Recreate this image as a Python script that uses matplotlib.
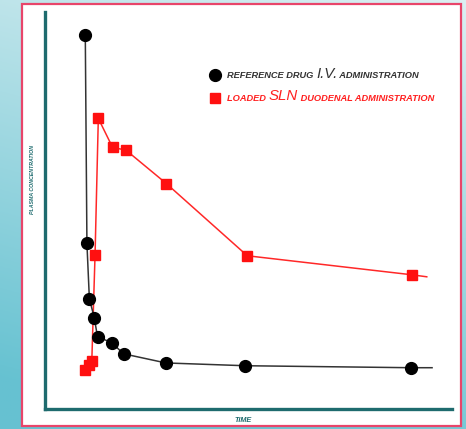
import numpy as np
import matplotlib
matplotlib.use("Agg")
import matplotlib.pyplot as plt
from matplotlib.patches import Rectangle

# ---- data (time in arbitrary units, concentration in arbitrary units) ----
iv_time = [9.9, 10.3, 10.9, 12.1, 12.9, 16.4, 19.3, 29.7, 49.2, 89.9, 95.1]
iv_conc = [94.2, 41.7, 27.8, 23.0, 18.2, 16.7, 13.9, 11.6, 10.9, 10.4, 10.4]

sln_time = [9.8, 10.8, 11.5, 12.3, 13.1, 16.6, 19.9, 29.8, 49.7, 90.2, 93.8]
sln_conc = [9.8, 11.1, 12.1, 38.9, 73.2, 65.9, 65.2, 56.8, 38.6, 33.8, 33.3]

legend_iv = ["REFERENCE DRUG ", "I.V.", " ADMINISTRATION"]
legend_sln = ["LOADED ", "SLN", " DUODENAL ADMINISTRATION"]
x_label = "TIME"
y_label = "PLASMA CONCENTRATION"

W, H = 466, 429
fig = plt.figure(figsize=(W / 100, H / 100), dpi=100)

# background gradient
bg = fig.add_axes([0, 0, 1, 1], zorder=-10)
yy, xx = np.mgrid[0:1:200j, 0:1:200j]
top = np.array([0.86, 0.94, 0.95])
bot = np.array([0.40, 0.76, 0.82])
t = np.clip(yy * 0.85 + (1 - xx) * 0.25, 0, 1)[..., None]
img = top * (1 - t) + bot * t
bg.imshow(img, aspect="auto", extent=[0, 1, 0, 1], origin="upper")
bg.set_axis_off()

# white panel with red border
fig.patches.append(Rectangle((22 / W, 1 - 426 / H), (461 - 22) / W, (426 - 4) / H,
                             transform=fig.transFigure, facecolor="white",
                             edgecolor="#e8456a", linewidth=1.6, zorder=-5))

teal = "#1e6b6e"
ax = fig.add_axes([45 / W, 1 - 409 / H, (452 - 45) / W, (409 - 12) / H])
ax.set_facecolor("none")
ax.set_xlim(0, 100)
ax.set_ylim(0, 100)
for s in ["top", "right"]:
    ax.spines[s].set_visible(False)
for s in ["left", "bottom"]:
    ax.spines[s].set_color(teal)
    ax.spines[s].set_linewidth(2.4)
ax.set_xticks([])
ax.set_yticks([])

ax.plot(iv_time, iv_conc, color="#333333", lw=1.1, marker="o", markersize=8.5,
        markerfacecolor="black", markeredgecolor="black",
        markevery=list(range(len(iv_time) - 1)), zorder=3)
ax.plot(sln_time, sln_conc, color="#ff2828", lw=1.1, marker="s", markersize=7.4,
        markerfacecolor="#ff1010", markeredgecolor="#ff1010",
        markevery=list(range(len(sln_time) - 1)), zorder=2)

# axis labels
fig.text(243 / W, 1 - 420 / H, x_label, color=teal, fontsize=5.2, style="italic",
         weight="bold", ha="center", va="center", family="Liberation Sans")
fig.text(32 / W, 1 - 180 / H, y_label, color=teal, fontsize=3.8, style="italic",
         weight="bold", rotation=90, ha="center", va="center",
         family="Liberation Sans")


# legend (manual, mixed sizes)
def legend_row(y_px, marker, mcolor, msize, parts, color):
    fig.lines.append(plt.Line2D([215 / W], [1 - y_px / H], transform=fig.transFigure,
                                marker=marker, color=mcolor, markersize=msize,
                                linestyle="none"))
    sizes = [6.7, 10.8, 6.7]
    weights = ["bold", "normal", "bold"]
    prev = ax.annotate(parts[0], xy=(227 / W, 1 - (y_px + 3.5) / H),
                       xycoords="figure fraction", color=color, fontsize=sizes[0],
                       style="italic", weight=weights[0], ha="left",
                       va="baseline", family="Liberation Sans")
    for p, s, w in zip(parts[1:], sizes[1:], weights[1:]):
        prev = ax.annotate(p, xy=(1, 0), xycoords=prev, color=color, fontsize=s,
                           style="italic", ha="left", va="bottom",
                           family="Liberation Sans", weight=w)


legend_row(75, "o", "black", 8.5, legend_iv, "#333333")
legend_row(97.5, "s", "#ff1010", 7.4, legend_sln, "#ff2020")

fig.savefig("out.png", dpi=100)
